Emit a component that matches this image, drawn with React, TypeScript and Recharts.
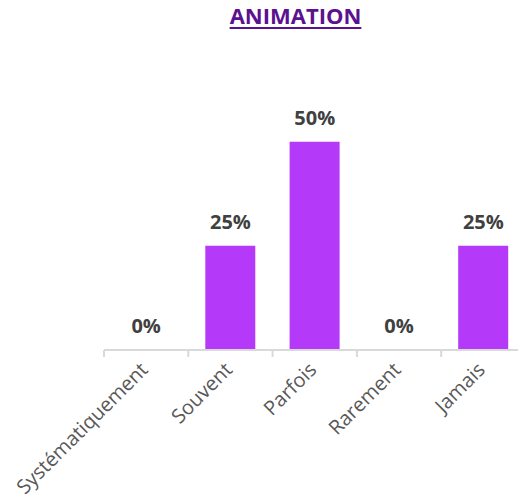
import React from "react";
import { ComposedChart, Bar, Line, XAxis, YAxis, LabelList } from "recharts";

const categories = ["Systématiquement", "Souvent", "Parfois", "Rarement", "Jamais"];
const values = [0, 0.25, 0.5, 0, 0.25];
const valueLabels = ["0%", "25%", "50%", "0%", "25%"];
const title = "ANIMATION";

const data = categories.map((c, i) => ({ name: c, value: values[i], label: valueLabels[i] }));

const HALF_BAND = 42.15;

const Tick = (props: any) => {
  const { x, y, payload } = props;
  return (
    <g>
      <line x1={x - HALF_BAND} x2={x - HALF_BAND} y1={y - 8} y2={y - 1} stroke="#d9d9d9" strokeWidth={2} />
      <g transform={`translate(${x + 3},${y + 13})`}>
        <text
          transform="rotate(-45)"
          textAnchor="end"
          fill="#595959"
          fontSize={20}
          fontFamily="'Open Sans', sans-serif"
        >
          {payload.value}
        </text>
      </g>
    </g>
  );
};

export default function App() {
  return (
    <div style={{ position: "absolute", left: 0, top: 0, width: 518, height: 502, overflow: "hidden", background: "#fff" }}>
      <div
        style={{
          position: "absolute",
          left: 195.5,
          width: 200,
          top: 0,
          textAlign: "center",
          fontFamily: "'Open Sans', sans-serif",
          fontWeight: 700,
          fontSize: 22,
          lineHeight: "30px",
          color: "#5b1190",
          textDecoration: "underline",
          textUnderlineOffset: 3,
        }}
      >
        {title}
      </div>
      <ComposedChart
        width={530}
        height={502}
        data={data}
        margin={{ top: 100, right: 4.5, bottom: 0, left: 104 }}
        barCategoryGap={0}
      >
        <YAxis hide domain={[0, 0.6]} type="number" />
        <XAxis
          dataKey="name"
          interval={0}
          height={152}
          stroke="#d9d9d9"
          strokeWidth={2}
          tickLine={false}
          tickSize={6}
          tick={<Tick />}
        />
        <Bar dataKey="value" fill="#b439f9" barSize={50} isAnimationActive={false} />
        <Line dataKey="value" stroke="none" dot={false} activeDot={false} isAnimationActive={false}>
          <LabelList
            dataKey="label"
            position="top"
            offset={17}
            fill="#404040"
            fontSize={20}
            fontWeight={700}
            fontFamily="'Open Sans', sans-serif"
          />
        </Line>
      </ComposedChart>
    </div>
  );
}
